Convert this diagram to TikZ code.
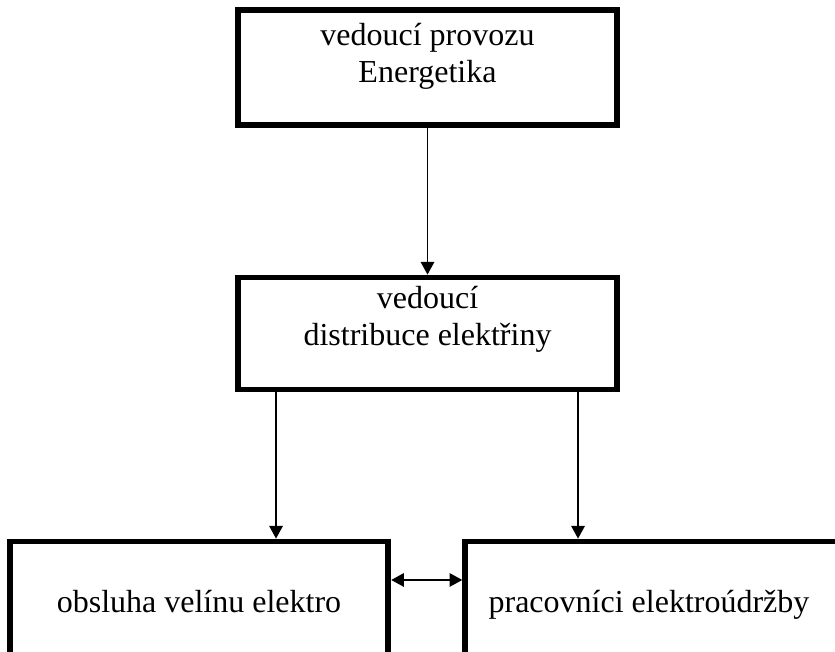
\documentclass[tikz,border=0pt]{standalone}
\usepackage{fontspec}
\setmainfont{Liberation Serif}
\usetikzlibrary{arrows.meta}

\begin{document}
\begin{tikzpicture}[x=0.75pt, y=-0.75pt,
    orgbox/.style={draw, line width=4.3pt, minimum width=284pt, inner sep=0pt},
    boxtext/.style={font=\fontsize{24}{27.5}\selectfont, align=center, anchor=base},
    link/.style={line width=1.4pt, -{Triangle[length=9.5pt, width=10pt]}}]
  \useasboundingbox (0,0) rectangle (835,651);
  \clip (0,0) rectangle (835,651);

  % --- Boxes ---
  \node[orgbox, minimum height=86pt]  (head)    at (427.5, 67.5)  {};
  \node[orgbox, minimum height=84pt]  (dist)    at (427.5, 333.5) {};
  \node[orgbox, minimum height=120pt] (control) at (199, 621.5)   {};
  \node[orgbox, minimum height=120pt] (maint)   at (654.5, 621.5) {};

  % --- Texts inside the boxes (base = last line) ---
  \node[boxtext] (headtext)    at (427.5, 82)  {vedoucí provozu\\Energetika};
  \node[boxtext] (disttext)    at (427.5, 345) {vedoucí\\distribuce elektřiny};
  \node[boxtext] (controltext) at (199, 612)   {obsluha velínu elektro};
  \node[boxtext] (mainttext)   at (649, 612)   {pracovníci elektroúdržby};

  % --- Connectors ---
  \coordinate (distl) at ([xshift=-113.6pt]dist.south);
  \coordinate (distr) at ([xshift=112.9pt]dist.south);
  \coordinate (ctrlside) at ([yshift=-31pt]control.north east);

  \draw[link] (head) -- (dist);
  \draw[link] (distl) -- (distl |- control.north);
  \draw[link] (distr) -- (distr |- maint.north);
  \draw[link, {Triangle[length=9.5pt, width=10pt]}-{Triangle[length=9.5pt, width=10pt]}]
    (ctrlside) -- (ctrlside -| maint.west);
\end{tikzpicture}
\end{document}
